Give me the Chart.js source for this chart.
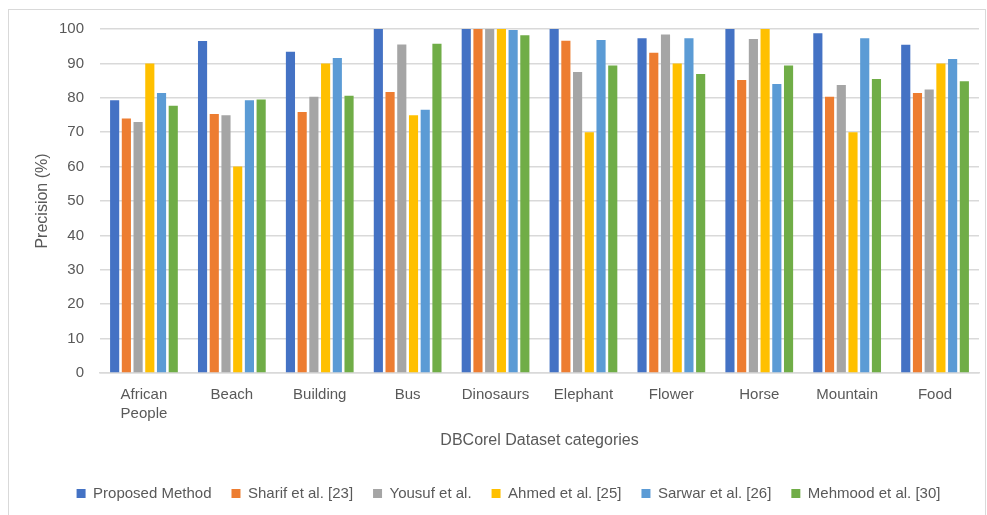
<!DOCTYPE html>
<html>
<head>
<meta charset="utf-8">
<script src="https://cdn.jsdelivr.net/npm/chart.js@4"></script>
<style>
  html, body { margin: 0; padding: 0; background: #fff; }
  .marco { position: absolute; left: 8px; top: 9px; width: 976px; height: 520px; border: 1px solid #d9d9d9; pointer-events: none; }
  .grafico { position: absolute; left: 0; top: 0; }
</style>
</head>
<body>
<canvas class="grafico" width="987" height="515"></canvas>
<div class="marco"></div>
<script>
const canvas = document.querySelector('.grafico');

// categories and series
const categorias = [["African", "People"], "Beach", "Building", "Bus", "Dinosaurs", "Elephant", "Flower", "Horse", "Mountain", "Food"];
const proposed = [79.3, 96.5, 93.4, 100, 100, 100, 97.3, 100, 98.8, 95.4];
const sharif = [74.0, 75.3, 75.9, 81.7, 100, 96.6, 93.1, 85.2, 80.3, 81.4];
const yousuf = [73.0, 74.9, 80.3, 95.5, 100, 87.5, 98.4, 97.1, 83.7, 82.4];
const ahmed = [90, 60, 90, 74.9, 100, 70, 90, 100, 70, 90];
const sarwar = [81.4, 79.3, 91.6, 76.5, 99.7, 96.8, 97.3, 84.0, 97.3, 91.3];
const mehmood = [77.7, 79.5, 80.6, 95.7, 98.2, 89.4, 86.9, 89.4, 85.5, 84.8];
const yTicks = [0, 10, 20, 30, 40, 50, 60, 70, 80, 90, 100];

const series = [
    { label: "Proposed Method", data: proposed, color: "#4472c4" },
    { label: "Sharif et al. [23]", data: sharif, color: "#ed7d31" },
    { label: "Yousuf et al.", data: yousuf, color: "#a5a5a5" },
    { label: "Ahmed et al. [25]", data: ahmed, color: "#ffc000" },
    { label: "Sarwar et al. [26]", data: sarwar, color: "#5b9bd5" },
    { label: "Mehmood et al. [30]", data: mehmood, color: "#70ad47" },
];

const fuente = "'Liberation Sans', Arial, sans-serif";
const gris = "#595959";

const config = {
    type: "bar",
    data: {
        labels: categorias,
        datasets: series.map((s) => ({
            label: s.label,
            data: s.data,
            backgroundColor: s.color,
            categoryPercentage: 0.8,
            barPercentage: 0.78,
        })),
    },
    options: {
        responsive: false,
        animation: false,
        layout: { padding: { top: 29, right: 8, left: 38, bottom: 4 } },
        plugins: {
            tooltip: { enabled: false },
            legend: {
                position: "bottom",
                labels: {
                    boxWidth: 9,
                    boxHeight: 9,
                    padding: 20,
                    color: gris,
                    font: { family: fuente, size: 15 },
                },
            },
        },
        scales: {
            x: {
                afterFit: (scale) => { scale.height = 93; },
                grid: { display: false, drawTicks: false },
                border: { color: "#d9d9d9", width: 1.5 },
                ticks: {
                    color: gris,
                    padding: 12,
                    maxRotation: 0,
                    autoSkip: false,
                    font: { family: fuente, size: 15, lineHeight: 1.3 },
                },
                title: {
                    display: true,
                    text: "DBCorel Dataset categories",
                    color: gris,
                    padding: { top: 10, bottom: 16 },
                    font: { family: fuente, size: 16 },
                },
            },
            y: {
                min: 0,
                max: 100,
                afterBuildTicks: (scale) => {
                    scale.ticks = yTicks.map((v) => ({ value: v }));
                },
                afterFit: (scale) => { scale.width = 62; },
                grid: { color: "#d9d9d9", lineWidth: 1.5, drawTicks: false },
                border: { display: false },
                ticks: {
                    color: gris,
                    padding: 16,
                    font: { family: fuente, size: 15 },
                },
                title: {
                    display: true,
                    text: "Precision (%)",
                    color: gris,
                    padding: { top: -5, bottom: 0 },
                    font: { family: fuente, size: 16 },
                },
            },
        },
    },
};

new Chart(canvas, config);
</script>
</body>
</html>
